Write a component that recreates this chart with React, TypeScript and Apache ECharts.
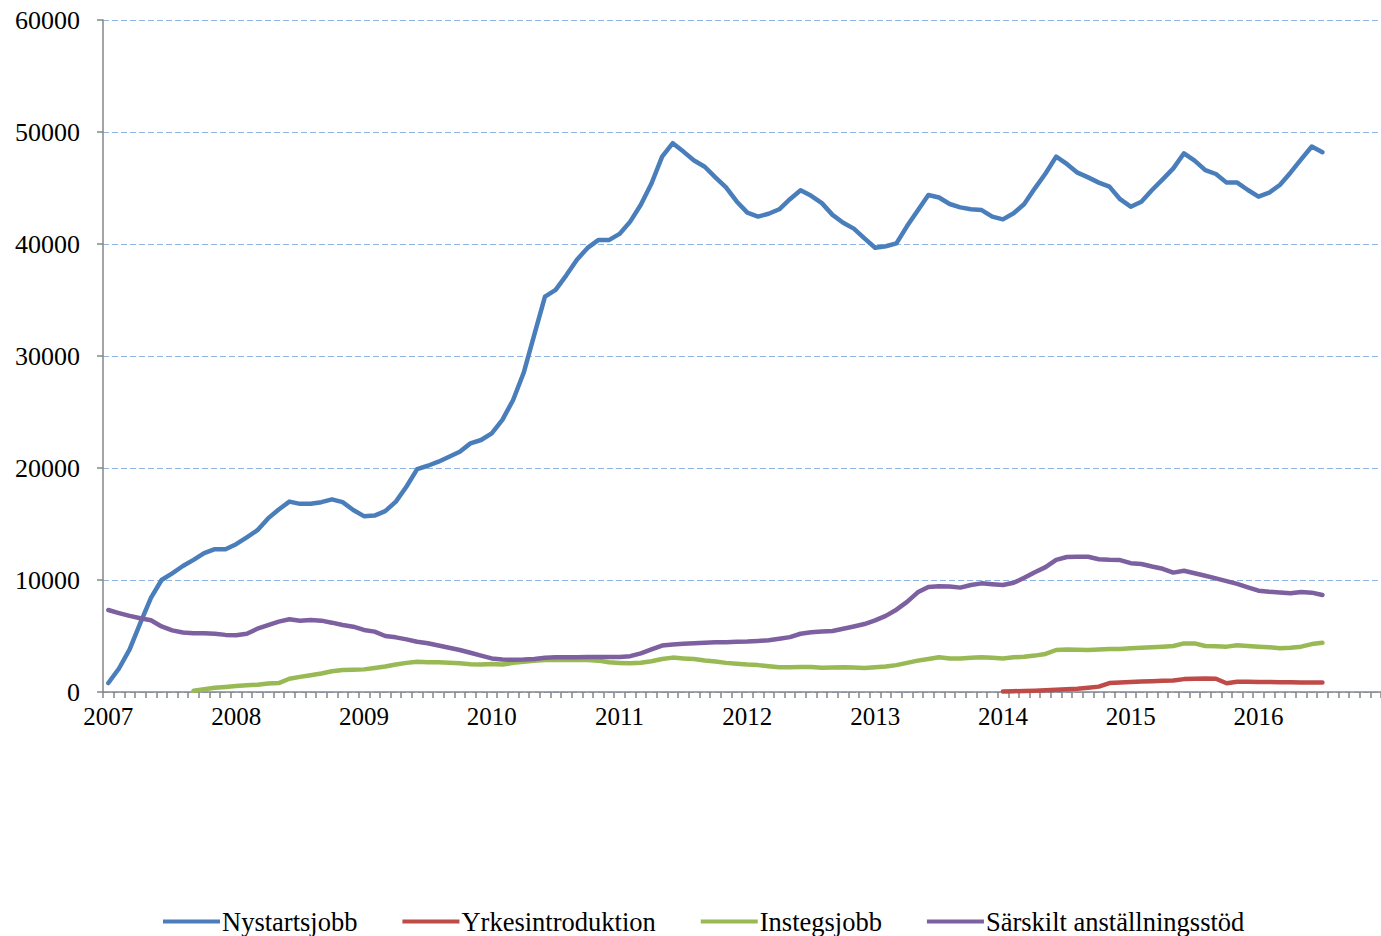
import React, { useEffect, useRef } from "react";
import * as echarts from "echarts";

const years = [2007, 2008, 2009, 2010, 2011, 2012, 2013, 2014, 2015, 2016];
const months = ["01", "02", "03", "04", "05", "06", "07", "08", "09", "10", "11", "12"];
const categories: string[] = years.flatMap((y) => months.map((m) => `${y}-${m}`));

// Nystartsjobb: Jan 2007 – Jul 2016
const nystartsjobb = [
  800, 2100, 3800, 6150, 8400, 10000, 10600, 11250, 11800, 12400, 12750, 12750,
  13200, 13800, 14450, 15500, 16300, 17000, 16800, 16800, 16950, 17200, 16950, 16250,
  15700, 15750, 16150, 17000, 18350, 19900, 20200, 20560, 21000, 21450, 22200, 22500,
  23100, 24300, 26050, 28500, 31900, 35300, 35900, 37200, 38600, 39650, 40350, 40350,
  40900, 42000, 43500, 45400, 47800, 49000, 48250, 47450, 46900, 45950, 45050, 43800,
  42800, 42450, 42700, 43100, 44000, 44800, 44300, 43650, 42600, 41900, 41370, 40500,
  39670, 39800, 40050, 41600, 43000, 44370, 44150, 43570, 43270, 43100, 43030, 42440,
  42200, 42740, 43570, 44970, 46300, 47800, 47150, 46370, 45950, 45480, 45120, 44000,
  43330, 43780, 44820, 45770, 46750, 48100, 47450, 46600, 46250, 45480, 45480, 44820,
  44230, 44580, 45270, 46370, 47560, 48700, 48200,
];
const nystartsjobbStart = 0;

// Yrkesintroduktion: Jan 2014 – Jul 2016
const yrkesintroduktion = [
  50, 70, 90, 120, 160, 200, 250, 300, 380, 480, 800, 850,
  900, 930, 960, 1000, 1030, 1150, 1180, 1200, 1180, 780, 920, 920,
  900, 900, 880, 860, 840, 850, 850,
];
const yrkesintroduktionStart = 84;

// Instegsjobb: Sep 2007 – Jul 2016
const instegsjobb = [
  120, 250, 380, 450,
  540, 600, 650, 750, 800, 1180, 1350, 1500, 1650, 1850, 1960, 1980,
  2020, 2150, 2280, 2450, 2600, 2700, 2650, 2650, 2620, 2560, 2480, 2450,
  2500, 2450, 2600, 2700, 2800, 2850, 2860, 2860, 2860, 2860, 2800, 2650,
  2600, 2560, 2620, 2750, 2950, 3070, 3000, 2950, 2820, 2720, 2600, 2530,
  2450, 2400, 2300, 2200, 2200, 2230, 2230, 2170, 2180, 2200, 2180, 2140,
  2200, 2280, 2400, 2600, 2800, 2950, 3100, 3000, 3000, 3050, 3100, 3050,
  3000, 3100, 3150, 3250, 3400, 3750, 3800, 3780, 3750, 3800, 3850, 3850,
  3900, 3950, 4000, 4050, 4110, 4340, 4340, 4110, 4080, 4050, 4170, 4100,
  4050, 4000, 3900, 3950, 4050, 4280, 4400,
];
const instegsjobbStart = 8;

// Särskilt anställningsstöd: Jan 2007 – Jul 2016
const sarskilt = [
  7320, 7050, 6800, 6580, 6400, 5850, 5500, 5320, 5250, 5250, 5200, 5100,
  5060, 5200, 5650, 5980, 6280, 6490, 6370, 6430, 6370, 6190, 5980, 5830,
  5540, 5390, 5000, 4880, 4700, 4490, 4350, 4150, 3950, 3750, 3500, 3250,
  3000, 2900, 2880, 2900, 2950, 3050, 3100, 3100, 3100, 3120, 3120, 3120,
  3120, 3200, 3450, 3800, 4150, 4250, 4300, 4350, 4400, 4450, 4450, 4480,
  4500, 4550, 4620, 4750, 4900, 5200, 5330, 5400, 5450, 5650, 5850, 6070,
  6400, 6800, 7350, 8050, 8900, 9380, 9450, 9420, 9320, 9550, 9700, 9620,
  9550, 9750, 10200, 10700, 11150, 11800, 12050, 12070, 12070, 11850, 11800, 11780,
  11500, 11430, 11200, 11000, 10660, 10830, 10600, 10380, 10150, 9900, 9650, 9350,
  9050, 8950, 8880, 8810, 8930, 8870, 8660,
];
const sarskiltStart = 0;

const seriesNames = ["Nystartsjobb", "Yrkesintroduktion", "Instegsjobb", "Särskilt anställningsstöd"];
const seriesColors = ["#4A7EBB", "#BE4B48", "#98B954", "#7D60A0"];

function pad(values: number[], start: number): (number | null)[] {
  const out: (number | null)[] = categories.map(() => null);
  values.forEach((v, i) => {
    out[start + i] = v;
  });
  return out;
}

const FONT = "'Liberation Serif', 'Times New Roman', serif";

export default function App() {
  const ref = useRef<HTMLDivElement>(null);
  useEffect(() => {
    if (!ref.current) return;
    const chart = echarts.init(ref.current, undefined, { renderer: "svg" });
    const dataSets = [
      pad(nystartsjobb, nystartsjobbStart),
      pad(yrkesintroduktion, yrkesintroduktionStart),
      pad(instegsjobb, instegsjobbStart),
      pad(sarskilt, sarskiltStart),
    ];
    chart.setOption({
      animation: false,
      backgroundColor: "#ffffff",
      textStyle: { fontFamily: FONT },
      grid: { left: 103, right: 0, top: 20, bottom: 244, containLabel: false },
      legend: {
        left: 163,
        top: 908,
        padding: 0,
        itemWidth: 57,
        itemHeight: 4,
        itemGap: 45,
        icon: "rect",
        textStyle: { fontFamily: FONT, fontSize: 26.5, color: "#000", padding: [0, 0, 0, -3] },
        data: seriesNames,
      },
      xAxis: {
        type: "category",
        data: categories,
        boundaryGap: true,
        axisLine: { show: true, lineStyle: { color: "#868686", width: 1.5 } },
        axisTick: { show: true, interval: 0, length: 6, lineStyle: { color: "#868686", width: 1.5 } },
        axisLabel: {
          interval: (index: number) => index % 12 === 0,
          formatter: (v: string) => v.substring(0, 4),
          fontFamily: FONT,
          fontSize: 25,
          color: "#000",
          margin: 12,
        },
        splitLine: { show: false },
      },
      yAxis: {
        type: "value",
        min: 0,
        max: 60000,
        interval: 10000,
        axisLine: { show: true, lineStyle: { color: "#868686", width: 1.5 } },
        axisTick: { show: true, length: 6, lineStyle: { color: "#868686", width: 1.5 } },
        axisLabel: {
          formatter: (v: number) => String(v),
          fontFamily: FONT,
          fontSize: 26,
          color: "#000",
          margin: 23,
        },
        splitLine: { show: true, lineStyle: { color: "#8EB4E3", type: [6, 3], width: 1.2 } },
      },
      series: seriesNames.map((name, i) => ({
        name,
        type: "line",
        data: dataSets[i],
        showSymbol: false,
        symbol: "none",
        connectNulls: false,
        itemStyle: { color: seriesColors[i] },
        lineStyle: { color: seriesColors[i], width: 4.5, cap: "round", join: "round" },
      })),
    });
    return () => chart.dispose();
  }, []);
  return (
    <div
      ref={ref}
      style={{ position: "fixed", left: 0, top: 0, width: 1381, height: 936, background: "#fff" }}
    />
  );
}
